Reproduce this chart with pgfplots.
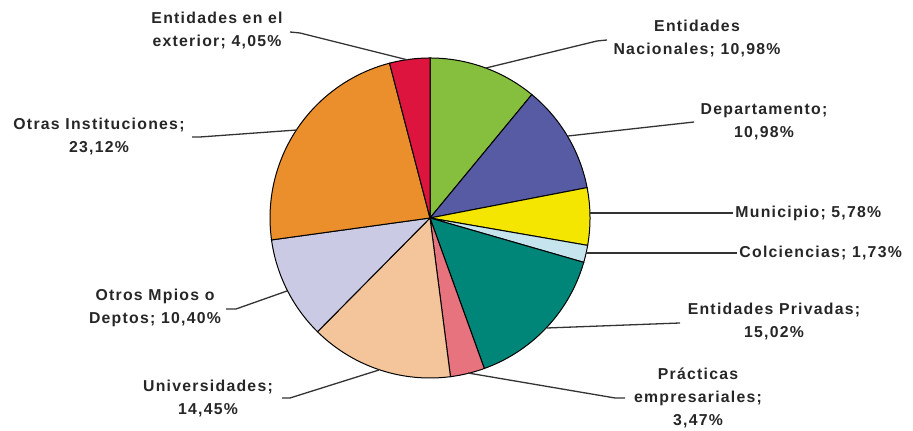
\documentclass[border=0pt]{standalone}
\usepackage{pgfplots}
\pgfplotsset{compat=1.18}
\usepackage{fontspec}
\setmainfont{Liberation Sans}
\newfontfamily\lab{Liberation Sans}[LetterSpace=8]
\definecolor{cNac}{HTML}{86BF3D}
\definecolor{cDep}{HTML}{575BA3}
\definecolor{cMun}{HTML}{F4E600}
\definecolor{cCol}{HTML}{C5E4EE}
\definecolor{cPri}{HTML}{008579}
\definecolor{cPra}{HTML}{E6737D}
\definecolor{cUni}{HTML}{F4C59A}
\definecolor{cOtm}{HTML}{CBCAE4}
\definecolor{cOti}{HTML}{EA8F2C}
\definecolor{cExt}{HTML}{DC143E}
\tikzset{lbl/.style={font=\lab\bfseries\fontsize{7.9}{11.5}\selectfont, text=black!85, inner sep=0pt, align=center}}
\pgfplotsset{leader/.style={draw=black!80, line width=0.65pt, no marks, solid}}
% slice: #1 cumulative percent before, #2 percent, #3 colour
\newcommand\slice[3]{%
  \addplot[fill=#3, draw=black, line width=0.5pt, domain={90-3.6*(#1+#2)}:{90-3.6*(#1)}, samples=60, variable=\t]
    ({430+160*cos(\t)},{-218+160*sin(\t)}) -- (axis cs:430,-218) -- cycle;}
\begin{document}
\begin{tikzpicture}
\begin{axis}[width=456.5pt, height=215.5pt, scale only axis, hide axis,
  xmin=0, xmax=913, ymin=-431, ymax=0, clip=false]
\path (axis cs:0,0) rectangle (axis cs:913,-431);
\slice{0}{10.98}{cNac}
\slice{10.98}{10.98}{cDep}
\slice{21.96}{5.78}{cMun}
\slice{27.74}{1.73}{cCol}
\slice{29.47}{15.02}{cPri}
\slice{44.49}{3.47}{cPra}
\slice{47.96}{14.45}{cUni}
\slice{62.41}{10.40}{cOtm}
\slice{72.81}{23.12}{cOti}
\slice{95.93}{4.07}{cExt}
% leader lines
\addplot[leader] coordinates {(408,-60) (300,-33) (290,-32)};
\addplot[leader] coordinates {(486,-68) (597,-41) (607,-40)};
\addplot[leader] coordinates {(568,-136) (694,-122)};
\addplot[leader] coordinates {(590,-213) (733,-213)};
\addplot[leader] coordinates {(586,-253) (737,-253)};
\addplot[leader] coordinates {(547,-328) (680,-323)};
\addplot[leader] coordinates {(468,-373) (615,-398) (625,-398)};
\addplot[leader] coordinates {(379,-370) (290,-398) (282,-398)};
\addplot[leader] coordinates {(287,-291) (236,-309) (226,-309)};
\addplot[leader] coordinates {(297,-130) (200,-137) (192,-137)};
% labels
\node[lbl] at (axis cs:217,-31) {Entidades en el\\exterior; 4,05\%};
\node[lbl] at (axis cs:697,-39) {Entidades\\Nacionales; 10,98\%};
\node[lbl] at (axis cs:764,-122) {Departamento;\\10,98\%};
\node[lbl, anchor=west] at (axis cs:735,-213) {Municipio; 5,78\%};
\node[lbl, anchor=west] at (axis cs:739,-253) {Colciencias; 1,73\%};
\node[lbl] at (axis cs:774,-322) {Entidades Privadas;\\15,02\%};
\node[lbl] at (axis cs:698,-398) {Prácticas\\empresariales;\\3,47\%};
\node[lbl] at (axis cs:208,-399) {Universidades;\\14,45\%};
\node[lbl] at (axis cs:155,-308) {Otros Mpios o\\Deptos; 10,40\%};
\node[lbl] at (axis cs:99,-137) {Otras Instituciones;\\23,12\%};
\end{axis}
\end{tikzpicture}
\end{document}
